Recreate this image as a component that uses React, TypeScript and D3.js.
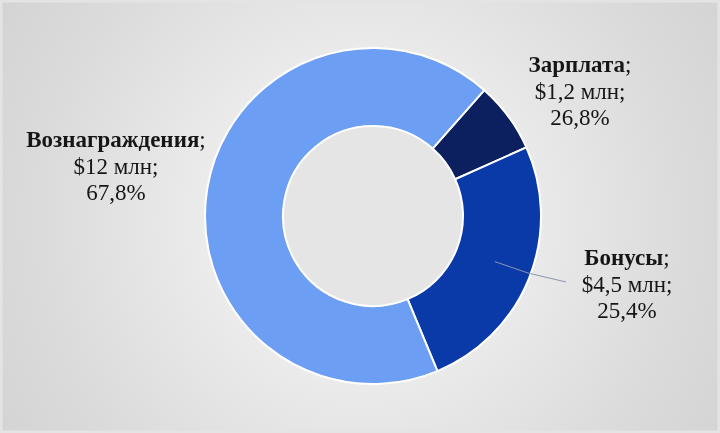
import React from "react";
import * as d3 from "d3";

const categories = ["Зарплата", "Бонусы", "Вознаграждения"];
const amounts = ["$1,2 млн", "$4,5 млн", "$12 млн"];
const values = [1.2, 4.5, 12];
const percentLabels = ["26,8%", "25,4%", "67,8%"];
const colors = ["#0c1f5e", "#0a3aa8", "#6c9ef4"];

const W = 720;
const H = 433;
const cx = 373;
const cy = 216;
const outerR = 168;
const innerR = 90;
const startDeg = 41.5;

// label anchor positions (center x, first baseline y)
const labelPos: [number, number][] = [
  [580, 72],
  [627, 265],
  [116, 147],
];

export default function App() {
  const pie = d3
    .pie<number>()
    .sort(null)
    .value((d) => d)
    .startAngle((startDeg * Math.PI) / 180)
    .endAngle((startDeg * Math.PI) / 180 + 2 * Math.PI);
  const arcs = pie(values);
  const arc = d3.arc<d3.PieArcDatum<number>>().innerRadius(innerR).outerRadius(outerR);
  const lh = 26.5;
  const bonusCentroid = arc.centroid(arcs[1]);
  const leader = d3.line()([
    [cx + bonusCentroid[0] + 2, cy + bonusCentroid[1] - 2],
    [528, 273],
    [566, 282],
  ]);

  return (
    <svg
      width={W}
      height={H}
      style={{ position: "fixed", left: 0, top: 0 }}
      fontFamily="'Liberation Serif', 'Times New Roman', serif"
    >
      <defs>
        <radialGradient id="bg" cx={362} cy={220} r={430} gradientUnits="userSpaceOnUse">
          <stop offset="0" stopColor="#f7f7f7" />
          <stop offset="0.35" stopColor="#ececec" />
          <stop offset="0.75" stopColor="#dbdbdb" />
          <stop offset="1" stopColor="#d3d3d3" />
        </radialGradient>
        <radialGradient id="hole" cx={358} cy={212} r={95} gradientUnits="userSpaceOnUse">
          <stop offset="0" stopColor="#f8f8f8" />
          <stop offset="0.6" stopColor="#efefef" />
          <stop offset="1" stopColor="#e5e5e5" />
        </radialGradient>
      </defs>
      <rect x={0} y={0} width={W} height={H} fill="url(#bg)" />
      <rect x={1} y={1} width={W - 2} height={H - 2} fill="none" stroke="#e4e4e4" strokeWidth={3} />
      <g transform={`translate(${cx},${cy})`}>
        <circle r={innerR} fill="url(#hole)" />
        {arcs.map((a, i) => (
          <path key={i} d={arc(a) || ""} fill={colors[i]} stroke="#ffffff" strokeWidth={2} />
        ))}
      </g>
      <path d={leader || ""} fill="none" stroke="#8a97ad" strokeWidth={1} />
      {categories.map((c, i) => (
        <text key={c} textAnchor="middle" fontSize={23} fill="#161616">
          <tspan x={labelPos[i][0]} y={labelPos[i][1]}>
            <tspan fontWeight="bold">{c}</tspan>;
          </tspan>
          <tspan x={labelPos[i][0]} y={labelPos[i][1] + lh}>
            {amounts[i]};
          </tspan>
          <tspan x={labelPos[i][0]} y={labelPos[i][1] + 2 * lh}>
            {percentLabels[i]}
          </tspan>
        </text>
      ))}
    </svg>
  );
}
